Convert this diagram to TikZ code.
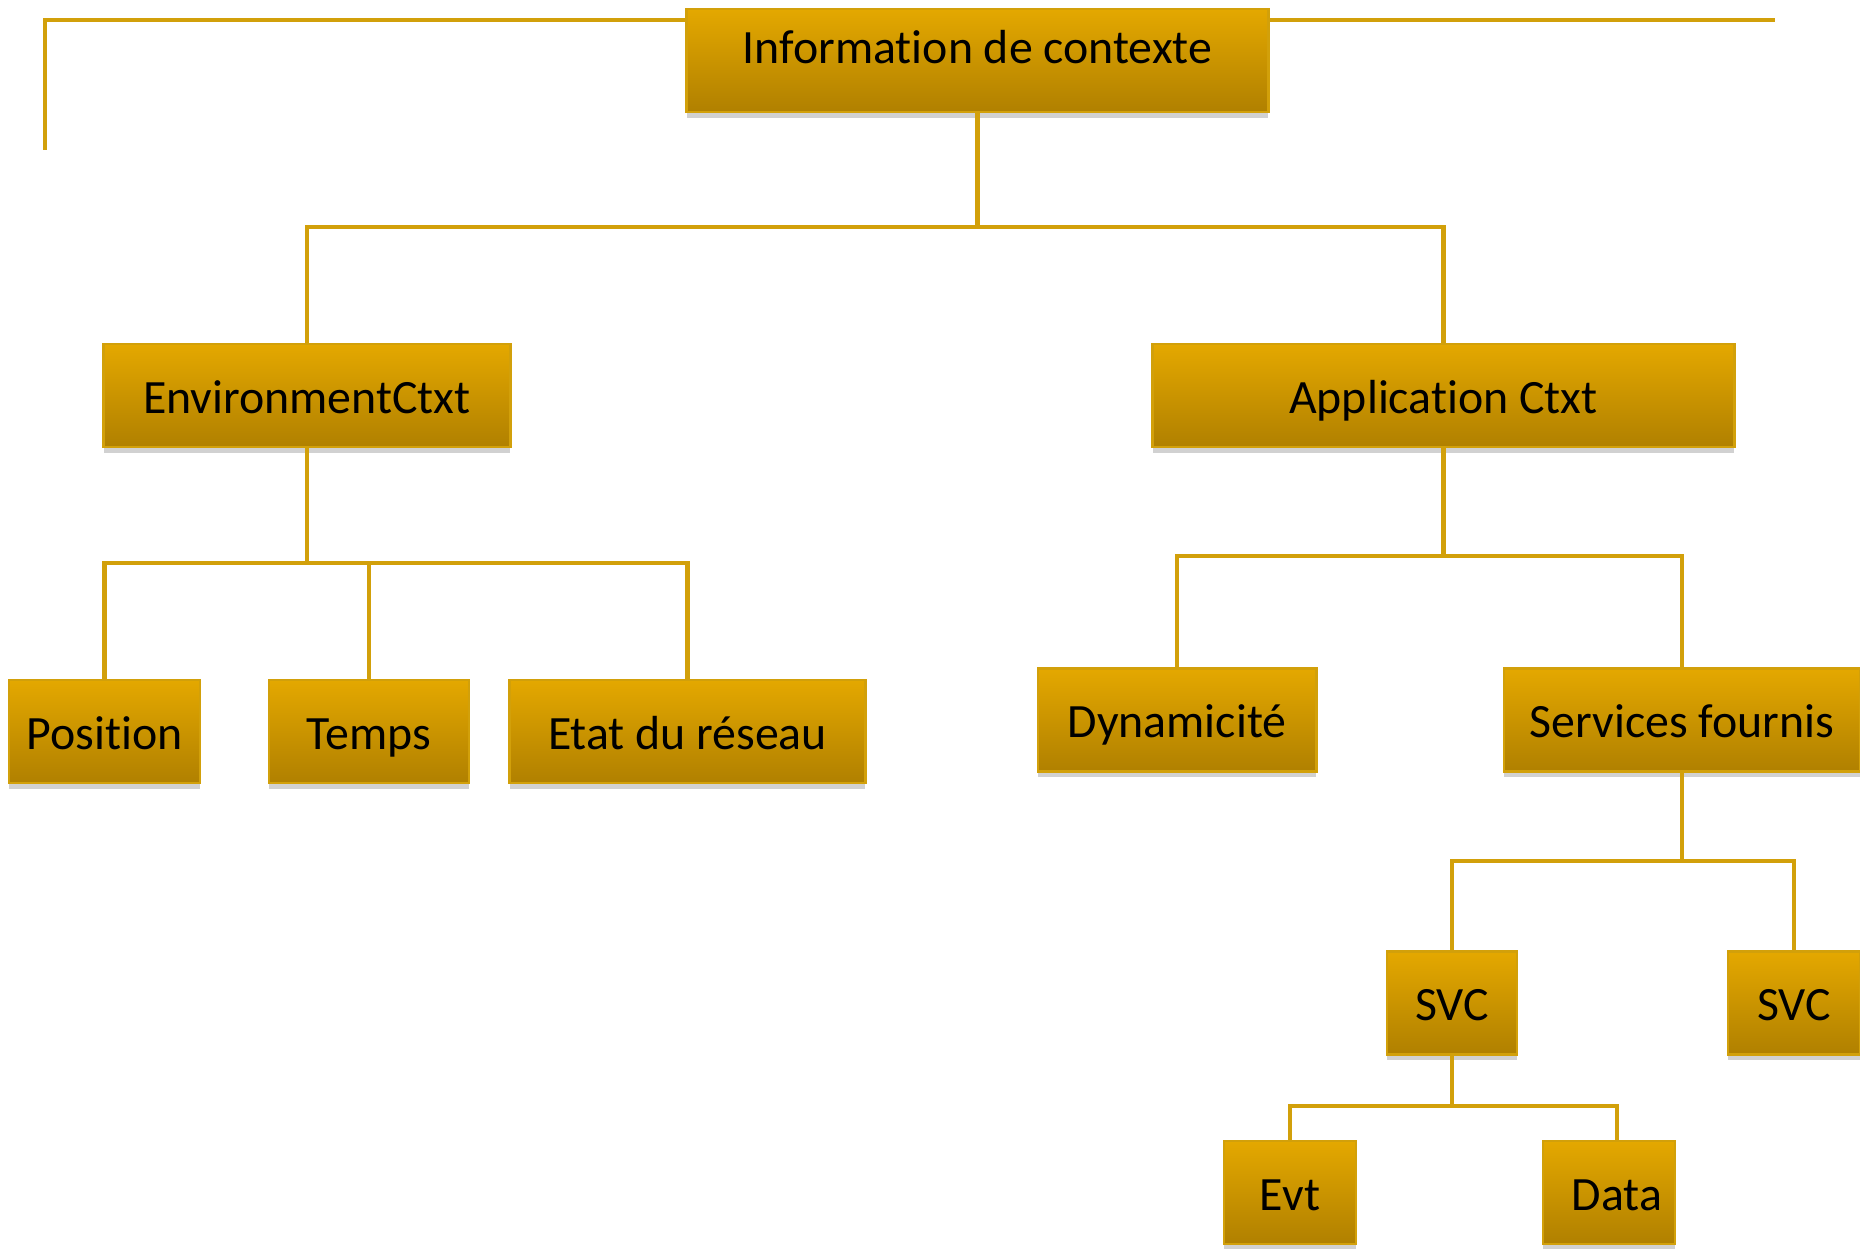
\documentclass[tikz,border=0pt]{standalone}
\usepackage{fontspec}
\setmainfont{Carlito}[Ligatures=NoCommon]
\usepackage{xcolor}
\usepackage{tikz}
\usetikzlibrary{shadows}
\definecolor{goldtop}{RGB}{228,168,0}
\definecolor{goldbot}{RGB}{176,128,0}
\definecolor{goldline}{RGB}{210,160,10}
\tikzstyle{box} = [rectangle, minimum height=1.03cm, text centered, text height=12.9pt, text depth=2.7pt, draw=goldline, line width=0.8pt, top color=goldtop, bottom color=goldbot, font=\fontsize{13.6}{16}\selectfont, drop shadow={shadow xshift=0pt, shadow yshift=-1.6pt, fill=gray!45, opacity=0.8}]
\tikzstyle{link} = [goldline, line width=1.3pt]

\begin{document}
\begin{tikzpicture}[x=0.01cm, y=-0.01cm]
	\useasboundingbox (0,0) rectangle (1860,1248);
	% bracket behind the root
	\coordinate (tl) at (45,20);
	\coordinate (tlb) at (45,148);
	\coordinate (tr) at (1773,20);
	\draw [link, line cap=rect] (tlb) -- (tl) -- (tr);
	\node (top) [box, minimum width=5.81cm, text depth=11.4pt, inner ysep=0pt] at (977.5,60.5) {Information de contexte};
	\node (env) [box, minimum width=4.06cm] at (307,395.5) {EnvironmentCtxt};
	\node (app) [box, minimum width=5.81cm] at (1443.5,395.5) {Application Ctxt};
	\node (pos) [box, minimum width=1.91cm] at (104.5,731.5) {Position};
	\node (temps) [box, minimum width=2.00cm] at (369,731.5) {Temps};
	\node (etat) [box, minimum width=3.55cm] at (687.5,731.5) {Etat du réseau};
	\node (dyn) [box, minimum width=2.78cm] at (1177,720) {Dynamicité};
	\node (serv) [box, minimum width=3.56cm] at (1682,720) {Services fournis};
	\node (svca) [box, minimum width=1.30cm] at (1452,1003) {SVC};
	\node (svcb) [box, minimum width=1.32cm] at (1794,1003) {SVC};
	\node (evt) [box, minimum width=1.32cm] at (1290,1192.5) {Evt};
	\node (data) [box, minimum width=1.32cm, inner xsep=0pt] at (1609,1192.5) {\hspace{4.5pt}Data};
	% bars
	\coordinate (b1) at (977.5,227);
	\coordinate (b2) at (307,563);
	\coordinate (b3) at (1443.5,556);
	\coordinate (b4) at (1682,861);
	\coordinate (b5) at (1452,1106);
	\draw [link] (top) -- (b1) -| (env);
	\draw [link] (b1) -| (app);
	\draw [link] (env) -- (b2) -| (pos);
	\draw [link] (b2) -| (temps);
	\draw [link] (b2) -| (etat);
	\draw [link] (app) -- (b3) -| (dyn);
	\draw [link] (b3) -| (serv);
	\draw [link] (serv) -- (b4) -| (svca);
	\draw [link] (b4) -| (svcb);
	\draw [link] (svca) -- (b5) -| (evt);
	\draw [link] (b5) -| ([xshift=0.08cm]data.north);
\end{tikzpicture}
\end{document}
